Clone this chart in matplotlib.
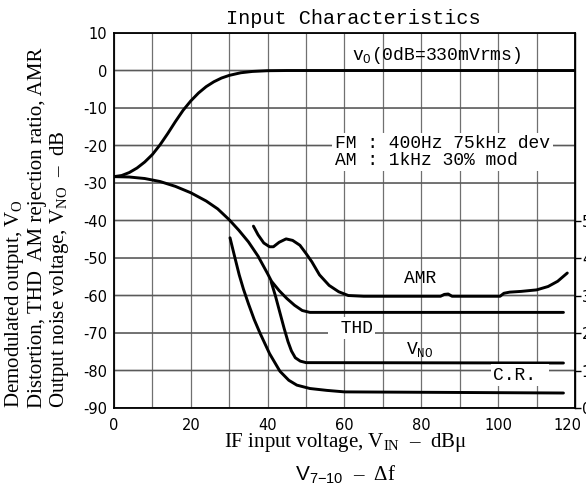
import numpy as np
import matplotlib
matplotlib.use("Agg")
import matplotlib.pyplot as plt
import matplotlib.transforms as mtransforms

plt.rcParams['mathtext.fontset'] = 'custom'
plt.rcParams['mathtext.rm'] = 'Liberation Serif'
plt.rcParams['mathtext.it'] = 'Liberation Serif:italic'
plt.rcParams['mathtext.sf'] = 'Liberation Sans'
plt.rcParams['mathtext.tt'] = 'Liberation Mono'

# demodulated output Vo
vo_x = [0, 2, 4, 6, 8, 10, 12, 14, 16, 18, 20, 22, 24, 26, 28, 30, 33, 36, 40, 45, 120]
vo_y = [-28.3, -28.0, -27.2, -26.0, -24.4, -22.4, -19.8, -16.8, -13.6, -10.6,
        -8.1, -6.0, -4.3, -3.0, -2.0, -1.3, -0.6, -0.25, -0.05, 0, 0]

# upper falling curve ending on the THD level
thd_x = [0, 4, 8, 12, 16, 20, 24, 27, 30, 32.5, 35, 37.5, 40, 41, 43, 45, 47, 49, 51, 117]
thd_y = [-28.3, -28.4, -28.8, -29.6, -30.9, -32.6, -34.8, -36.9, -39.8, -42.6,
         -45.7, -49.5, -54.2, -56.2, -58.7, -60.8, -62.6, -64.0, -64.5, -64.5]

# steep branch ending on the output noise level
vno_x = [40.9, 42, 43.2, 44.3, 45.3, 46.2, 47.2, 48.5, 50, 117]
vno_y = [-56.3, -60.0, -64.6, -68.8, -72.3, -74.8, -76.6, -77.5, -77.9, -78.0]

# capture ratio
cr_x = [30.2, 31.5, 32.6, 33.7, 35, 36.5, 38, 40.5, 43.2, 45.5, 47.6, 51, 55.4, 60, 117]
cr_y = [-44.6, -50.0, -54.5, -58.3, -62.2, -66.4, -70.0, -75.5, -80.2, -82.6,
        -83.9, -84.8, -85.3, -85.7, -86.0]

# AM rejection ratio
amr_x = [36.3, 37.5, 39, 40.5, 41.5, 43, 44.8, 46.5, 48.4, 50, 51.5, 53.5, 56,
         58.5, 61, 65, 85, 86, 87, 88, 100.5, 101.5, 103, 106, 110, 113, 115.5, 118]
amr_y = [-41.5, -43.8, -46.0, -47.0, -47.0, -45.8, -44.9, -45.3, -46.6, -48.8,
         -51.0, -54.5, -57.3, -59.0, -60.0, -60.2, -60.2, -59.7, -59.6, -60.2,
         -60.2, -59.4, -59.1, -58.9, -58.5, -57.6, -56.2, -54.0]

x_ticks = [0, 20, 40, 60, 80, 100, 120]
x_grid = list(range(0, 121, 10))
y_ticks = [10, 0, -10, -20, -30, -40, -50, -60, -70, -80, -90]
r_ticks = [0, 1, 2, 3, 4, 5]

fig = plt.figure(figsize=(5.86, 4.87), dpi=100)
ax = fig.add_axes([0.1945, 0.1622, 0.7867, 0.770])

ax.set_xlim(0, 120)
ax.set_ylim(-90, 10)
ax.set_xticks(x_ticks)
ax.set_xticks(x_grid, minor=True)
ax.set_yticks(y_ticks)
ax.set_yticklabels([str(v) for v in y_ticks])
ax.tick_params(which='both', length=0, labelsize=10.5)
ax.tick_params(axis='x', pad=7)
ax.tick_params(axis='y', pad=5)
ax.set_axisbelow(True)
ax.grid(True, axis='x', which='both', color='#707070', linewidth=0.9)
# horizontal grid lines, one per y tick
for v in y_ticks:
    ax.plot([0, 120], [v, v], color='#5a5a5a', lw=1.2, snap=False, zorder=1.5)
for s in ax.spines.values():
    s.set_linewidth(1.3)
    s.set_zorder(4)

# last x label sits a little left of its tick in the original
lbl120 = ax.get_xticklabels()[-1]
lbl120.set_transform(lbl120.get_transform() +
                     mtransforms.ScaledTranslation(-8 / 100, 0, fig.dpi_scale_trans))

lw = 2.1
for xs, ys in [(vo_x, vo_y), (thd_x, thd_y), (vno_x, vno_y), (cr_x, cr_y), (amr_x, amr_y)]:
    ax.plot(xs, ys, color='black', lw=lw, solid_capstyle='round',
            solid_joinstyle='round', zorder=2.5)

# right axis (capture ratio, dB): 0 at -90, 1 dB per 10 dB of the left scale
sec = ax.secondary_yaxis('right', functions=(lambda y: (y + 90) / 10,
                                              lambda r: r * 10 - 90))
sec.set_yticks(r_ticks)
sec.tick_params(axis='y', direction='out', length=4, width=1, pad=1, labelsize=10.5)
sec.spines['right'].set_linewidth(1.0)

mono = 'Liberation Mono'
white = dict(facecolor='white', edgecolor='none', pad=1.5)
ax.text(62, 4, r'$\mathtt{v_O}$(0dB=330mVrms)', family=mono, fontsize=13,
        ha='left', va='center', zorder=3)
ax.text(57.5, -21.7, 'FM : 400Hz 75kHz dev\nAM : 1kHz 30% mod', family=mono,
        fontsize=13, ha='left', va='center', linespacing=0.95, zorder=3,
        bbox=dict(facecolor='white', edgecolor='none', pad=2))
ax.text(79.7, -55.4, 'AMR', family=mono, fontsize=13, ha='center', va='center', zorder=3)
ax.text(56.3, -68.7, ' THD', family=mono, fontsize=13, ha='left', va='center', zorder=3,
        bbox=white)
ax.text(76, -74.5, r'$\mathtt{V_{NO}}$', family=mono, fontsize=13, ha='left',
        va='center', zorder=3)
ax.text(98.7, -81.2, 'C.R. ', family=mono, fontsize=13, ha='left', va='center', zorder=3,
        bbox=white)

fig.text(353 / 586, 1 - 18 / 487, 'Input Characteristics', family=mono,
         fontsize=14.5, ha='center', va='center')

serif = 'Liberation Serif'
fig.text(345 / 586, 1 - 443 / 487, r'IF input voltage, $\mathrm{V_{IN}}$  –  dBμ',
         family=serif, fontsize=15, ha='center', va='center')
fig.text(346 / 586, 1 - 475 / 487, r'$\mathsf{V_{7{-}10}}$  –  Δf',
         family=serif, fontsize=15, ha='center', va='center')

ylab = ['Demodulated output, $\\mathrm{V_O}$',
        'Distortion, THD  AM rejection ratio, AMR',
        'Output noise voltage, $\\mathrm{V_{NO}}$  –  dB']
for px, t in zip([15, 38, 60], ylab):
    fig.text(px / 586, 1 - 408 / 487, t, family=serif, fontsize=15,
             rotation=90, ha='center', va='bottom')

fig.savefig('out.png', dpi=100)
